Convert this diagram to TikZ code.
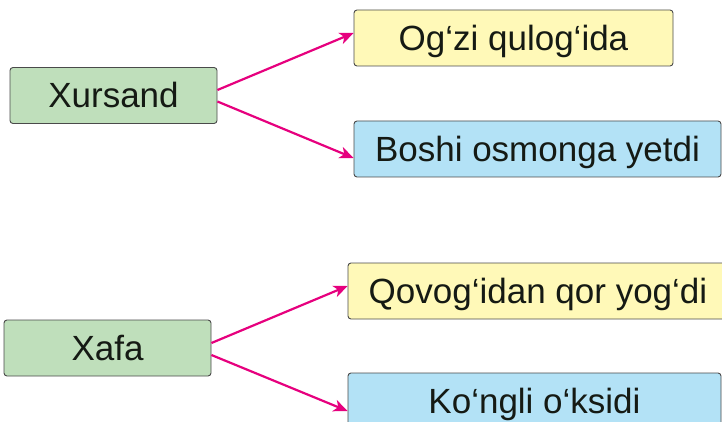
\documentclass[tikz,border=0pt]{standalone}
\usepackage{fontspec}
\setmainfont{Liberation Sans}
\usetikzlibrary{arrows.meta}
\definecolor{boxgreen}{HTML}{BFDFBB}
\definecolor{boxyellow}{HTML}{FFF9B8}
\definecolor{boxblue}{HTML}{B3E2F6}
\definecolor{boxline}{HTML}{4A4A4A}
\definecolor{arrowmag}{HTML}{E6007E}
\definecolor{inktext}{HTML}{151A14}
\tikzset{
  card/.style={draw=boxline, line width=0.9pt, rounded corners=3pt,
    inner sep=0pt, minimum height=56pt, text height=25pt, text depth=0pt,
    font=\fontsize{35}{42}\selectfont, text=inktext},
  gcard/.style={card, fill=boxgreen},
  ycard/.style={card, fill=boxyellow},
  bcard/.style={card, fill=boxblue},
  link/.style={draw=arrowmag, line width=2.2pt, -{Stealth[length=14pt,width=12pt,inset=4pt]}}
}
\begin{document}
\begin{tikzpicture}[x=1pt,y=-1pt]
\useasboundingbox (0,0) rectangle (722,422);
\clip (0,0) rectangle (722,422);
\node[gcard, minimum width=207pt] (xursand) at (113.5,95.5) {Xursand};
\node[ycard, minimum width=319pt] (ogzi) at (513.5,38) {Og‘zi qulog‘ida};
\node[bcard, minimum width=367pt] (boshi) at (537.5,149) {Boshi osmonga yetdi};
\node[gcard, minimum width=207pt] (xafa) at (107.5,348) {Xafa};
\node[ycard, minimum width=380pt] (qovog) at (538,291) {Qovog‘idan qor yog‘di};
\node[bcard, minimum width=373pt] (kongli) at (534.5,401) {Ko‘ngli o‘ksidi};
\draw[link] ([yshift=5.5pt]xursand.east) -- ([yshift=5pt]ogzi.west);
\draw[link] ([yshift=-6pt]xursand.east) -- ([yshift=-9pt]boshi.west);
\draw[link] ([yshift=5pt]xafa.east) -- ([yshift=5pt]qovog.west);
\draw[link] ([yshift=-7pt]xafa.east) -- ([yshift=-10pt]kongli.west);
\end{tikzpicture}
\end{document}
